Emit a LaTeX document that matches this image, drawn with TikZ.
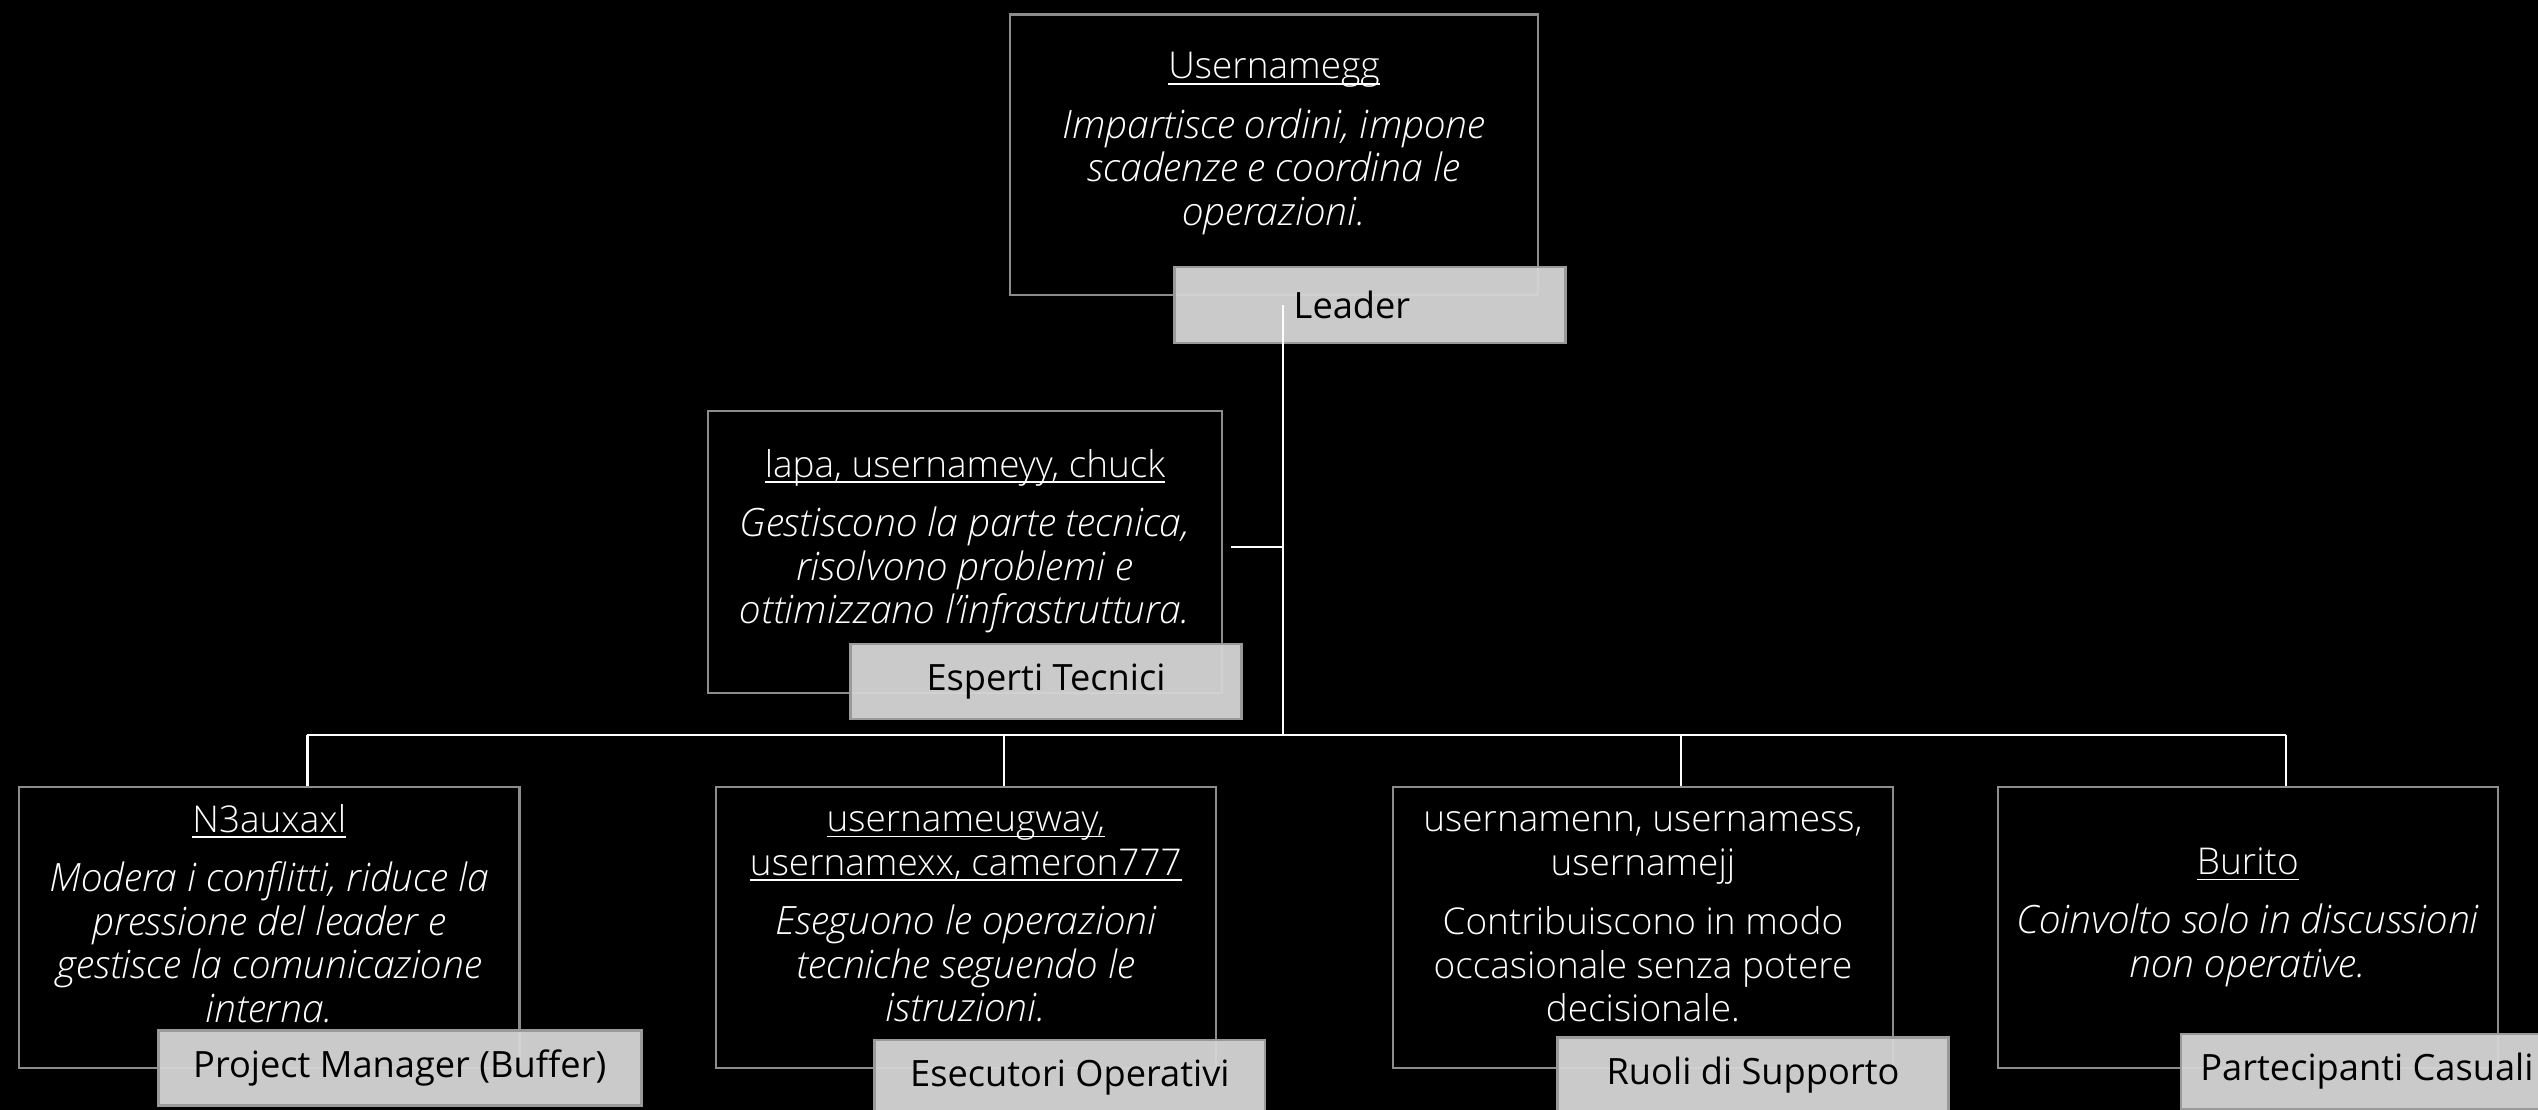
\documentclass[tikz,border=0pt]{standalone}
\usepackage{fontspec}
\setmainfont{Open Sans Light}
\newfontfamily\tagfont{Open Sans}
\newcommand\uln[1]{\setbox0\hbox{#1}\rlap{\rule[-1.7pt]{\wd0}{0.55pt}}\box0}
\newcommand\who[1]{{\upshape\fontsize{10.5}{12.4}\selectfont\uln{#1}}}
\definecolor{boxline}{HTML}{8C8C8C}
\definecolor{tagfill}{HTML}{D5D5D5}
\definecolor{tagline}{HTML}{9A9A9A}

\begin{document}
\begin{tikzpicture}[
	x=0.01cm, y=-0.01cm,
	role/.style={draw=boxline, line width=0.6pt, minimum width=#1,
		minimum height=2.81cm, inner sep=0pt},
	role/.default=5cm,
	tag/.style={fill=tagfill, fill opacity=0.95, text opacity=1, draw=tagline,
		line width=0.8pt, minimum width=#1, minimum height=0.75cm, inner sep=0pt,
		text=black, font=\tagfont\fontsize{10.3}{12}\selectfont},
	tag/.default=3.9cm,
	txt/.style={text=white, align=center, font=\fontsize{11.1}{12.4}\selectfont\itshape},
	link/.style={draw=white, line width=0.7pt}
	]
	\useasboundingbox (0,0) rectangle (2538,1110);
	\fill[black] (0,0) rectangle (2538,1110);

	\node[role=5.28cm, minimum height=2.8cm] (leadbox) at (1274,154.6) {};
	\node[txt] (leadtxt) at ([yshift=0.11cm]leadbox.center)
		{\who{Usernamegg}\\[4.5pt]Impartisce ordini, impone\\scadenze e coordina le\\operazioni.};
	\node[tag, minimum height=0.76cm] (leadlbl) at (1370,305) {\kern-0.36cm Leader};

	\node[role=5.135cm, minimum height=2.82cm] (techbox) at (965,552) {};
	\node[txt] (techtxt) at ([yshift=0.11cm]techbox.center)
		{\who{lapa, usernameyy, chuck}\\[4.5pt]Gestiscono la parte tecnica,\\risolvono problemi e\\ottimizzano l'infrastruttura.};
	\node[tag] (techlbl) at (1046,681.5) {Esperti Tecnici};

	\node[role] (pmbox) at (269.3,927.35) {};
	\node[txt] (pmtxt) at ([yshift=0.14cm]pmbox.center)
		{\who{N3auxaxl}\\[4.5pt]Modera i conflitti, riduce la\\pressione del leader e\\gestisce la comunicazione\\interna.};
	\node[tag=4.825cm] (pmlbl) at (399.75,1067.9) {Project Manager (Buffer)};

	\node[role] (opbox) at (965.8,927.35) {};
	\node[txt] (optxt) at ([yshift=0.105cm]opbox.center)
		{\who{usernameugway,}\\\who{usernamexx, cameron777}\\[4.5pt]Eseguono le operazioni\\tecniche seguendo le\\istruzioni.};
	\node[tag] (oplbl) at (1069.85,1077.5) {Esecutori Operativi};

	\node[role] (supbox) at (1642.9,927.35) {};
	\node[txt, font=\fontsize{10.5}{12.4}\selectfont] (suptxt) at ([yshift=0.105cm]supbox.center)
		{usernamenn, usernamess,\\usernamejj\\[4.5pt]Contribuiscono in modo\\occasionale senza potere\\decisionale.};
	\node[tag] (suplbl) at (1753,1075) {Ruoli di Supporto};

	\node[role] (casbox) at (2247.8,927.35) {};
	\node[txt] (castxt) at ([yshift=0.10cm]casbox.center)
		{\who{Burito}\\[4.5pt]Coinvolto solo in discussioni\\non operative.};
	\node[tag=3.72cm] (caslbl) at (2367,1071.5) {Partecipanti Casuali};

	\coordinate (top) at (1283,305);
	\coordinate (tee) at (1283,547);
	\coordinate (hub) at (1283,735);
	\draw[link] (top) -- (hub);
	\draw[link] (tee) -- ([xshift=0.08cm]techbox.east |- tee);
	\draw[link] ([xshift=0.38cm]pmbox.north |- hub) -- ([xshift=0.38cm]casbox.north |- hub);
	\foreach \b in {pmbox,opbox,supbox,casbox}
		\draw[link] ([xshift=0.38cm]\b.north |- hub) -- ([xshift=0.38cm]\b.north);
\end{tikzpicture}
\end{document}
